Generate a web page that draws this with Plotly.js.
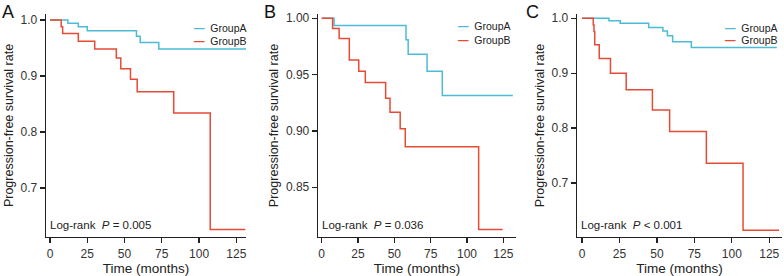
<!DOCTYPE html>
<html>
<head>
<meta charset="utf-8">
<script src="https://cdn.plot.ly/plotly-3.0.1.min.js"></script>
<style>html,body{margin:0;padding:0;background:#fff}#chart{width:784px;height:276px}</style>
</head>
<body>
<div id="chart"></div>
<script>
// ---- Data ----
const groupNames = ["GroupA", "GroupB"];
const panelLabels = ["A", "B", "C"];
const pValues = ["= 0.005", "= 0.036", "< 0.001"];
const xTicks = [0, 25, 50, 75, 100, 125];

// Panel A
const timeA_grpA = [0, 12, 19, 25, 58, 60.5, 73, 131.5];
const survA_grpA = [1, 0.994, 0.988, 0.981, 0.971, 0.960, 0.948, 0.948];
const timeA_grpB = [0, 7.5, 8.5, 19, 30, 44.5, 47.5, 54, 58.5, 83, 107.5, 131];
const survA_grpB = [1, 0.988, 0.976, 0.962, 0.948, 0.932, 0.913, 0.894, 0.872, 0.834, 0.626, 0.626];

// Panel B
const timeB_grpA = [0, 8.5, 58, 59.5, 72.5, 83, 131.5];
const survB_grpA = [1, 0.9935, 0.981, 0.968, 0.953, 0.9315, 0.9315];
const timeB_grpB = [0, 7.5, 12, 19, 25.5, 30, 44, 47, 54, 57.5, 108, 124.5];
const survB_grpB = [1, 0.991, 0.982, 0.963, 0.953, 0.943, 0.929, 0.9165, 0.902, 0.886, 0.8125, 0.8125];

// Panel C
const timeC_grpA = [0, 18, 25.5, 44.5, 54, 57, 60.5, 73, 130];
const survC_grpA = [1, 0.9955, 0.991, 0.983, 0.977, 0.968, 0.9575, 0.947, 0.947];
const timeC_grpB = [0, 7.5, 8, 8.5, 11.5, 19, 29.5, 47, 58.5, 83, 107.5, 131.5];
const survC_grpB = [1, 0.988, 0.976, 0.952, 0.927, 0.900, 0.870, 0.833, 0.794, 0.736, 0.614, 0.614];

const yTicksA = [0.7, 0.8, 0.9, 1.0];
const yTicksB = [0.85, 0.90, 0.95, 1.00];
const yTicksC = [0.7, 0.8, 0.9, 1.0];

// ---- Styling ----
const colA = "#4DBBD5";
const colB = "#E64B35";
const FONT = "Liberation Sans, Arial, sans-serif";
const ink = "#222";

const panels = [
  {times: [timeA_grpA, timeA_grpB], surv: [survA_grpA, survA_grpB], yticks: yTicksA, fmt: ".1f",
   dom: [46/784, 246/784], xr: [-2.68, 131.5], yr: [0.6125, 1.0107], standoff: 4},
  {times: [timeB_grpA, timeB_grpB], surv: [survB_grpA, survB_grpB], yticks: yTicksB, fmt: ".2f",
   dom: [318/784, 516/784], xr: [-2.55, 133.7], yr: [0.8058, 1.0038], standoff: 4},
  {times: [timeC_grpA, timeC_grpB], surv: [survC_grpA, survC_grpB], yticks: yTicksC, fmt: ".1f",
   dom: [577/784, 782/784], xr: [-3.34, 133.5], yr: [0.6018, 1.0078], standoff: 4}
];

const data = [];
const layout = {
  width: 784, height: 276,
  margin: {l: 0, r: 0, t: 14, b: 39},
  paper_bgcolor: "#fff", plot_bgcolor: "#fff",
  showlegend: false,
  font: {family: FONT, color: ink, size: 12},
  annotations: []
};

const legendX = [0.735, 0.70, 0.717];
const legendY = [[0.937, 0.879], [0.946, 0.883], [0.937, 0.883]];
const letterX = [0, 262/784, 524/784];

panels.forEach((p, i) => {
  const sfx = i === 0 ? "" : String(i + 1);
  const cols = [colA, colB];
  for (let g = 0; g < 2; g++) {
    data.push({
      x: p.times[g], y: p.surv[g], type: "scatter", mode: "lines",
      line: {shape: "hv", color: cols[g], width: 1.5},
      name: groupNames[g], xaxis: "x" + sfx, yaxis: "y" + sfx,
      hoverinfo: "skip"
    });
  }
  const axCommon = {
    showline: true, linecolor: ink, linewidth: 1.3, showgrid: false, zeroline: false,
    ticks: "outside", ticklen: 5, tickwidth: 1.3, tickcolor: ink,
    tickfont: {family: FONT, size: 12, color: "#333"}, automargin: false
  };
  layout["xaxis" + sfx] = Object.assign({}, axCommon, {
    domain: p.dom, range: p.xr, anchor: "y" + sfx,
    tickvals: xTicks,
    title: {text: "Time (months)", font: {family: FONT, size: 13.5, color: ink}, standoff: 4}
  });
  layout["yaxis" + sfx] = Object.assign({}, axCommon, {
    domain: [0, 1], range: p.yr, anchor: "x" + sfx,
    tickvals: p.yticks, tickformat: p.fmt,
    title: {text: "Progression-free survival rate", font: {family: FONT, size: 12.5, color: ink}, standoff: p.standoff}
  });
  // panel letter
  layout.annotations.push({
    text: panelLabels[i], xref: "paper", yref: "paper", x: letterX[i], y: 1.0 + 14/223,
    xanchor: "left", yanchor: "top", showarrow: false,
    font: {family: FONT, size: 18, color: "#111"}
  });
  // log-rank text
  layout.annotations.push({
    text: "Log-rank  <i>P</i> " + pValues[i], xref: "x" + sfx + " domain", yref: "y" + sfx + " domain",
    x: 0.015, y: 0.054, xanchor: "left", yanchor: "middle", showarrow: false, borderpad: 0,
    font: {family: FONT, size: 11.5, color: ink}
  });
  // legend entries
  for (let g = 0; g < 2; g++) {
    layout.annotations.push({
      text: "<b><span style='color:" + cols[g] + "'>\u2014</span></b>  " + groupNames[g],
      xref: "x" + sfx + " domain", yref: "y" + sfx + " domain",
      x: legendX[i], y: legendY[i][g], xanchor: "left", yanchor: "middle", showarrow: false,
      borderpad: 0,
      font: {family: FONT, size: 10.5, color: ink}
    });
  }
});

Plotly.newPlot("chart", data, layout, {staticPlot: true, displayModeBar: false});
</script>
</body>
</html>
